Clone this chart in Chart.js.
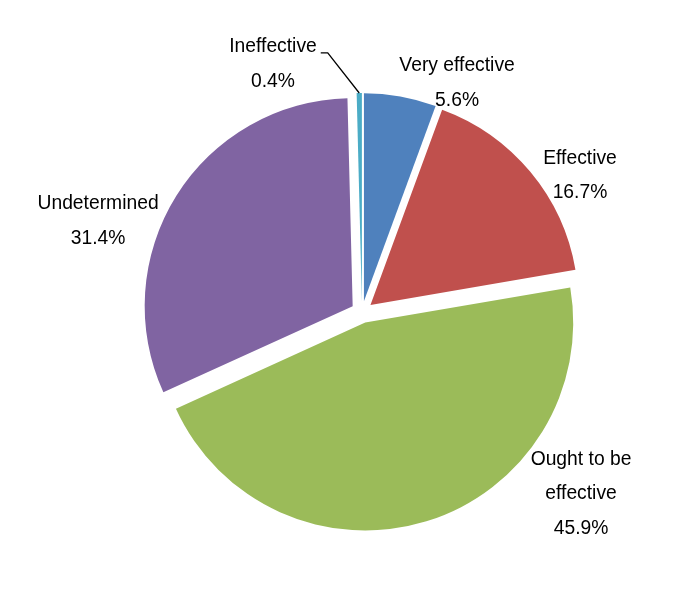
<!DOCTYPE html>
<html>
<head>
<meta charset="utf-8">
<script src="https://cdn.jsdelivr.net/npm/chart.js@4"></script>
<style>
  html, body { margin: 0; padding: 0; background: #fff; }
  #wrap { width: 685px; height: 591px; position: relative; }
</style>
</head>
<body>
<div id="wrap"><canvas id="c"></canvas></div>
<script>
// ---- data ----
const categories = [['Very effective'], ['Effective'], ['Ought to be', 'effective'], ['Undetermined'], ['Ineffective']];
const percentages = [5.6, 16.7, 45.9, 31.4, 0.4];
const sliceColors = ['#4F81BD', '#C0504D', '#9BBB59', '#8064A2', '#4BACC6'];

// ---- layout (label block centres relative to pie centre, in units of radius) ----
const labelAnchors = [[0.457, -1.099], [1.048, -0.656], [1.053, 0.875], [-1.269, -0.4375], [-0.428, -1.192]];
const EXPLODE = 11;
const FONT = '19.3px "Liberation Sans", Arial, sans-serif';
const LINE_H = 34.5;

// exploded slices: translate each arc along its mid angle, drawn by the library's arc element
const origArcDraw = Chart.ArcElement.prototype.draw;
Chart.ArcElement.prototype.draw = function (ctx) {
  const half = (this.startAngle + this.endAngle) / 2;
  ctx.save();
  ctx.translate(Math.cos(half) * EXPLODE, Math.sin(half) * EXPLODE);
  origArcDraw.call(this, ctx);
  ctx.restore();
};

const labelPlugin = {
  id: 'pieLabels',
  afterDatasetsDraw(chart) {
    const ctx = chart.ctx;
    const meta = chart.getDatasetMeta(0);
    ctx.save();
    ctx.font = FONT;
    ctx.fillStyle = '#000';
    ctx.textAlign = 'center';
    ctx.textBaseline = 'middle';
    meta.data.forEach((arc, i) => {
      const {x, y, outerRadius, startAngle, endAngle} = arc.getProps(['x', 'y', 'outerRadius', 'startAngle', 'endAngle'], true);
      const lines = categories[i].concat([percentages[i].toFixed(1) + '%']);
      const bx = x + labelAnchors[i][0] * outerRadius;
      const by = y + labelAnchors[i][1] * outerRadius;
      const top = by - (lines.length - 1) * LINE_H / 2;
      lines.forEach((t, k) => ctx.fillText(t, bx, top + k * LINE_H));
      if (percentages[i] < 1) {
        const w = ctx.measureText(categories[i][0]).width;
        const sx = bx + w / 2 + 4, sy = top + 6;
        const mid = (startAngle + endAngle) / 2;
        const ex = x + Math.cos(mid) * (outerRadius + EXPLODE);
        const ey = y + Math.sin(mid) * (outerRadius + EXPLODE);
        ctx.beginPath();
        ctx.strokeStyle = '#000';
        ctx.lineWidth = 1.3;
        ctx.moveTo(sx, sy);
        ctx.lineTo(sx + 7, sy);
        ctx.lineTo(ex, ey);
        ctx.stroke();
      }
    });
    ctx.restore();
  }
};

new Chart(document.getElementById('c'), {
  type: 'pie',
  data: {
    labels: categories,
    datasets: [{
      data: percentages,
      backgroundColor: sliceColors,
      borderWidth: 0,
      offset: 0
    }]
  },
  options: {
    responsive: true,
    maintainAspectRatio: false,
    animation: false,
    radius: 208,
    layout: { padding: { left: 39, top: 33, right: 0, bottom: 0 } },
    plugins: { legend: { display: false }, tooltip: { enabled: false } }
  },
  plugins: [labelPlugin]
});
</script>
</body>
</html>
